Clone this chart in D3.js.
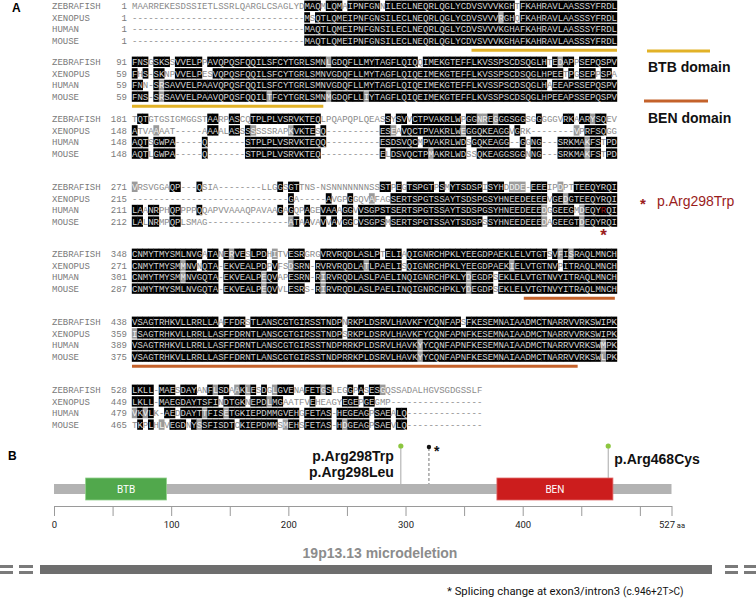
<!DOCTYPE html>
<html><head><meta charset="utf-8">
<script src="https://cdn.jsdelivr.net/npm/d3@7"></script>
<style>body{margin:0;background:#fff}svg{display:block}</style>
</head><body><svg id="fig" width="756" height="603"></svg>
<script>
// ---------- DATA ----------
const species = ["ZEBRAFISH", "XENOPUS", "HUMAN", "MOUSE"];
const blockStarts = [
  [1, 1, 1, 1], [91, 59, 59, 59], [181, 148, 148, 148], [271, 215, 211, 212],
  [348, 271, 301, 287], [438, 359, 389, 375], [528, 449, 479, 465]
];
const seqBlock1 = [
  "MAARREKESDSSIETLSSRLQARGLCSAGLYDMAQMLQMAIPNFGNNILECLNEQRLQGLYCDVSVVVKGHTFKAHRAVLAASSSYFRDL",
  "--------------------------------MSQTLQMEIPNFGNSILECLNEQRLQGLYCDVSVVVRGHQFKAHRAVLAASSSYFRDL",
  "--------------------------------MAQTLQMEIPNFGNSILECLNEQRLQGLYCDVSVVVKGHAFKAHRAVLAASSSYFRDL",
  "--------------------------------MAQTLQMEIPNFGNSILECLNEQRLQGLYCDVSVVVKGHAFKAHRAVLAASSSYFRDL"
];
const seqBlock2 = [
  "FNSGSKSSVVELPPAVQPQSFQQILSFCYTGRLSMNLGDQFLLMYTAGFLQIQQIMEKGTEFFLKVSSPSCDSQGLHTEDAPPSEPQSPV",
  "FHS-SKNPVVELPESVQPQSFQQILSFCYTGRLSMNVGDQFLLMYTAGFLQIQEIMEKGTEFFLKVSSPSCDSQGLHPEETPGSEPPSPA",
  "FNN-SRSAVVELPAAVQPQSFQQILSFCYTGRLSMNVGDQFLLMYTAGFLQIQEIMEKGTEFFLKVSSPSCDSQGLHAEEAPSSEPQSPV",
  "FNS-SRSAVVELPAAVQPQSFQQILTFCYTGRLSMNMGDQFLLIYTAGFLQIQEIMEKGTEFFLKVSSPSCDSQGLHPEEAPSSEPQSPV"
];
const seqBlock3 = [
  "TQTGTGSIGMGGSTAARPASCQTPLPLVSRVKTEQLPQAPQPLQEASSYSVVCTPVAKRLWPGGNREGGGSGGSGGGGGVRKAARYSQEV",
  "ATVAAAAT-----AAAALASSSSSSSRAPKVKTESQ----------ESEAVQCTPVAKRLWEGGQKEAGGVGRK--------VPRFSQGG",
  "AQTSGWPA-----Q-------STPLPLVSRVKTEQQ----------ESDSVQCMPVAKRLWDSGQKEAGG--GGNG---SRKMAKFSTPD",
  "AQTLGWPA-----Q-------STPLPLVSRVKTEQ-----------ELDSVQCTPMAKRLWDSSQKEAGGSGGNNG---SRKMAKFSTPD"
];
const seqBlock4 = [
  "VRSVGGAQP---QSIA--------LLGGSGTTNS-NSNNNNNNNSSSTPEGTSPGTPSMYTSDSPISYHDDDE-EEEIPDPTTEEQYRQI",
  "-----------------------------GA-----AVGPGGQVAFAGSERTSPGTSSAYTSDSPGSYHNEEDEEEEVGEDGTEEQYRQI",
  "LAANRPHQPPPPQQAPVVAAAQPAVAAGAGQPAGEVAAAGGVVSGPSTSERTSPGTSSAYTSDSPGSYHNEEDEEEDGGEEGMDEQYRQI",
  "LALNRMPQPLSMAG---------------ATAAVAVVAVGGCVSGPSMSERTSPGTSSAYTSDSPSSYHNEEDEEEDAGEEGTDEQYRQI"
];
const seqBlock5 = [
  "CNMYTMYSMLNVGATANERVESLPDHITVESRGRGVRVRQDLASLPTELIAQIGNRCHPKLYEEGDPAEKLELVTGTSVFISRAQLMNCH",
  "CNMYTMYSMMNVNQTA-EKVEALPDPVFSDSRN-RVRVRQDLATLPAELISQIGNRCHPKLYEEGDPAEKIELVTGTNVPITRAQLMNCH",
  "CNMYTMYSMMNVGQTA-EKVEALPEQVAPESRN-RIRVRQDLASLPAELINQIGNRCHPKLYDEGDPSEKLELVTGTNVYITRAQLMNCH",
  "CNMYTMYSMLNVGQTA-EKVEALPEQVVLESRS-RIRVRQDLASLPAELINQIGNRCHPKLYDEGDPSEKLELVTGTNVYITRAQLMNCH"
];
const seqBlock6 = [
  "VSAGTRHKVLLRRLLAAFFDRSTLANSCGTGIRSSTNDPNRKPLDSRVLHAVKFYCQNFAPSFKESEMNAIAADMCTNARRVVRKSWIPK",
  "ISAGTRHKVLLRRLLASFFDRNTLANSCGTGIRSSTNDPSRKPLDSRVLHAVKFYCQNFAPNFKESEMNAIAADMCTNARRVVRKSWIPK",
  "VSAGTRHKVLLRRLLASFFDRNTLANSCGTGIRSSTNDPRRKPLDSRVLHAVKYYCQNFAPNFKESEMNAIAADMCTNARRVVRKSWMPK",
  "VSAGTRHKVLLRRLLASFFDRNTLANSCGTGIRSSTNDPRRKPLDSRVLHAVKYYCQNFAPNFKESEMNAIAADMCTNARRVVRKSWLPK"
];
const seqBlock7 = [
  "LKLL-MAESDAYANFLSDAAKLESDGLGVENAFETGSLEGGPASESGQSSADALHGVSGDGSSLF",
  "LKLL-MAEGDAYTSFINDTGKNEPDLMGAATFVEHEAGYEGEPGEGMP-----------------",
  "VKVLK-AEDDAYTTFISETGKIEPDMMGVEHGFETAS-HEGEAGPSAEALQ--------------",
  "TKPLHLVEGDNYSSFISDTCKIEPDMMSMEHSFETAS-HDGEAGPSAEVLQ--------------"
];
const blocks = [seqBlock1, seqBlock2, seqBlock3, seqBlock4, seqBlock5, seqBlock6, seqBlock7];
// domain underlines in alignment (block index, column from, column to)
const btbUnderlines = [{block: 0, from: 63, to: 90}, {block: 1, from: 0, to: 35.5}];
const benUnderlines = [{block: 4, from: 72.7, to: 89.6}, {block: 5, from: 0, to: 82.7}];
const mutatedResidue = {block: 3, row: 2, col: 87};
const similarGroups = ["ILVM", "FYW", "KRH", "DE", "ST", "NQ", "AG"];

// Panel B data
const proteinLength = 527;
const domains = [
  {name: "BTB", start: 27, end: 96, color: "#51a84c", stroke: "#8fd08a"},
  {name: "BEN", start: 378, end: 477, color: "#cc1d1d", stroke: "#e06a6a"}
];
const variants = [
  {pos: 296, labels: ["p.Arg298Trp", "p.Arg298Leu"], side: "left", target: "bar"},
  {pos: 473, labels: ["p.Arg468Cys"], side: "right", target: "domain"}
];
const splice = {pos: 320};
const tickValues = [0, 50, 100, 150, 200, 250, 300, 350, 400, 450, 500, 527];
const labelledTicks = [0, 100, 200, 300, 400, 527];

// ---------- DRAW ----------
const svg = d3.select("#fig");
const mono = "'Liberation Mono', 'DejaVu Sans Mono', monospace";
const sans = "'Liberation Sans', Arial, sans-serif";

const colX = d3.scaleLinear().domain([0, 90]).range([132, 617]);
const cw = colX(1) - colX(0);
const blockY = [6, 62, 119, 187, 254, 322, 390];
const rowStep = 11.6;
const rowY = (b, r) => blockY[b] + r * rowStep;

svg.append("text").attr("x", 12).attr("y", 12).text("A")
  .style("font-family", sans).style("font-weight", "bold").style("font-size", "12px");

function shade(block) {
  const n = d3.max(block, s => s.length);
  const out = block.map(() => []);
  for (let c = 0; c < n; c++) {
    const col = block.map(s => s[c] || " ");
    const counts = d3.rollup(col.filter(a => /[A-Z]/.test(a)), v => v.length, d => d);
    let cons = null, best = 1;
    for (const [k, v] of counts) if (v > best) { best = v; cons = k; }
    col.forEach((a, i) => {
      let t = "none";
      if (/[A-Z]/.test(a) && cons) {
        if (a === cons) t = "id";
        else if (similarGroups.some(g => g.includes(a) && g.includes(cons))) t = "sim";
      }
      out[i].push(t);
    });
  }
  return out;
}

const gA = svg.append("g");
blocks.forEach((block, b) => {
  const sh = shade(block);
  block.forEach((seq, r) => {
    const y = rowY(b, r);
    const g = gA.append("g");
    g.append("text").attr("x", 52).attr("y", y + 3.2).text(species[r])
      .style("font-family", mono).style("font-size", "9px").style("fill", "#7a7a7a");
    g.append("text").attr("x", 127).attr("y", y + 3.2).attr("text-anchor", "end").text(blockStarts[b][r])
      .style("font-family", mono).style("font-size", "9px").style("fill", "#7a7a7a");
    const chars = seq.split("").map((ch, c) => ({ch, c, t: sh[r][c]}));
    g.selectAll("rect.res").data(chars.filter(d => d.t !== "none")).join("rect")
      .attr("x", d => colX(d.c) - 0.2).attr("width", cw + 0.4)
      .attr("y", y - 5.4).attr("height", 10.4)
      .attr("fill", d => d.t === "id" ? "#000" : "#9a9a9a");
    g.selectAll("text.res").data(chars).join("text")
      .attr("x", d => colX(d.c + 0.5)).attr("y", y + 3.2).attr("text-anchor", "middle")
      .text(d => d.ch)
      .style("font-family", mono).style("font-size", "9px")
      .style("fill", d => {
        if (b === mutatedResidue.block && r === mutatedResidue.row && d.c === mutatedResidue.col) return "#a01818";
        return d.t === "id" ? "#d4d4d4" : d.t === "sim" ? "#f2f2f2" : "#8a8a8a";
      });
  });
});

// domain underlines
function underline(list, color) {
  gA.selectAll(null).data(list).join("line")
    .attr("x1", d => colX(d.from)).attr("x2", d => colX(d.to))
    .attr("y1", d => rowY(d.block, 3) + 9.5).attr("y2", d => rowY(d.block, 3) + 9.5)
    .attr("stroke", color).attr("stroke-width", 3);
}
underline(btbUnderlines, "#e2b227");
underline(benUnderlines, "#c4622b");

// legends
svg.append("line").attr("x1", 647).attr("x2", 710).attr("y1", 51).attr("y2", 51).attr("stroke", "#e2b227").attr("stroke-width", 3);
svg.append("text").attr("x", 648).attr("y", 72).text("BTB domain")
  .style("font-family", sans).style("font-weight", "bold").style("font-size", "14px").style("fill", "#111");
svg.append("line").attr("x1", 644).attr("x2", 708).attr("y1", 101).attr("y2", 101).attr("stroke", "#c4622b").attr("stroke-width", 3);
svg.append("text").attr("x", 648).attr("y", 123).text("BEN domain")
  .style("font-family", sans).style("font-weight", "bold").style("font-size", "14px").style("fill", "#111");
svg.append("text").attr("x", 640).attr("y", 209).text("*")
  .style("font-family", sans).style("font-weight", "bold").style("font-size", "15px").style("fill", "#9a1c1c");
svg.append("text").attr("x", 657).attr("y", 206).text("p.Arg298Trp")
  .style("font-family", sans).style("font-size", "14px").style("fill", "#9a1c1c");
svg.append("text").attr("x", colX(mutatedResidue.col + 0.5)).attr("y", 241).attr("text-anchor", "middle").text("*")
  .style("font-family", sans).style("font-weight", "bold").style("font-size", "17px").style("fill", "#9a1c1c");

// ---------- PANEL B ----------
const aa = d3.scaleLinear().domain([0, proteinLength]).range([54, 671.5]);
const gB = svg.append("g");
gB.append("text").attr("x", 8).attr("y", 460).text("B")
  .style("font-family", sans).style("font-weight", "bold").style("font-size", "12px");

// backbone
gB.append("rect").attr("x", aa(0)).attr("width", aa(proteinLength) - aa(0)).attr("y", 484).attr("height", 10).attr("fill", "#b3b3b3");

// lollipops
variants.forEach(v => {
  const x = aa(v.pos);
  gB.append("line").attr("x1", x).attr("x2", x).attr("y1", 446).attr("y2", v.target === "bar" ? 484 : 478)
    .attr("stroke", "#a8a8a8").attr("stroke-width", 1);
  gB.append("circle").attr("cx", x).attr("cy", 446).attr("r", 2.6).attr("fill", "#8cc63f");
  v.labels.forEach((t, i) => {
    gB.append("text")
      .attr("x", v.side === "left" ? x - 7 : x + 6)
      .attr("y", v.side === "left" ? 461 + i * 15.5 : 464)
      .attr("text-anchor", v.side === "left" ? "end" : "start")
      .text(t)
      .style("font-family", sans).style("font-weight", "bold").style("font-size", "14px").style("fill", "#111");
  });
});
{
  const x = aa(splice.pos);
  gB.append("line").attr("x1", x).attr("x2", x).attr("y1", 448).attr("y2", 484)
    .attr("stroke", "#777").attr("stroke-width", 1).attr("stroke-dasharray", "3,2");
  gB.append("circle").attr("cx", x).attr("cy", 447).attr("r", 2.2).attr("fill", "#111");
  gB.append("text").attr("x", x + 5).attr("y", 456).text("*")
    .style("font-family", sans).style("font-weight", "bold").style("font-size", "14px").style("fill", "#111");
}

// domains
const dg = gB.selectAll("g.dom").data(domains).join("g");
dg.append("rect").attr("x", d => aa(d.start)).attr("width", d => aa(d.end) - aa(d.start))
  .attr("y", 478).attr("height", 22).attr("fill", d => d.color).attr("stroke", d => d.stroke).attr("stroke-width", 0.8);
dg.append("text").attr("x", d => (aa(d.start) + aa(d.end)) / 2).attr("y", 493).attr("text-anchor", "middle")
  .text(d => d.name).style("font-family", "Roboto, sans-serif").style("font-size", "10px").style("fill", "#fff");

// axis
const axis = d3.axisBottom(aa).tickValues(tickValues).tickSize(10).tickSizeOuter(0)
  .tickFormat(d => labelledTicks.includes(d) ? d : "");
const ax = gB.append("g").attr("transform", "translate(0,506)").call(axis);
ax.select(".domain").attr("stroke", "#9a9a9a");
ax.selectAll(".tick line").attr("stroke", "#9a9a9a");
ax.selectAll(".tick text").style("font-family", "Roboto, sans-serif").style("font-size", "9.5px").style("fill", "#222").attr("dy", "0.95em");
ax.selectAll(".tick").filter(d => d === proteinLength).select("text")
  .append("tspan").text(" aa").style("font-size", "7.5px");

// microdeletion
gB.append("text").attr("x", 380).attr("y", 558).attr("text-anchor", "middle").text("19p13.13 microdeletion")
  .style("font-family", sans).style("font-weight", "bold").style("font-size", "14px").style("fill", "#8c8c8c");
gB.append("rect").attr("x", 40).attr("y", 565).attr("width", 672).attr("height", 9).attr("fill", "#6e6e6e");
const dashes = [[0, 13], [19, 33], [725, 738], [744, 756]];
dashes.forEach(([a, b]) => {
  [565, 571].forEach(yy => gB.append("rect").attr("x", a).attr("y", yy).attr("width", b - a).attr("height", 3).attr("fill", "#7a7a7a"));
});

// footnote
const fn = gB.append("text").attr("x", 447).attr("y", 595)
  .style("font-family", "Roboto, sans-serif").style("font-size", "11.3px").style("fill", "#111");
fn.append("tspan").text("* Splicing change at exon3/intron3 ");
fn.append("tspan").text("(c.946+2T>C)").style("font-size", "10px");
</script>
</body></html>
